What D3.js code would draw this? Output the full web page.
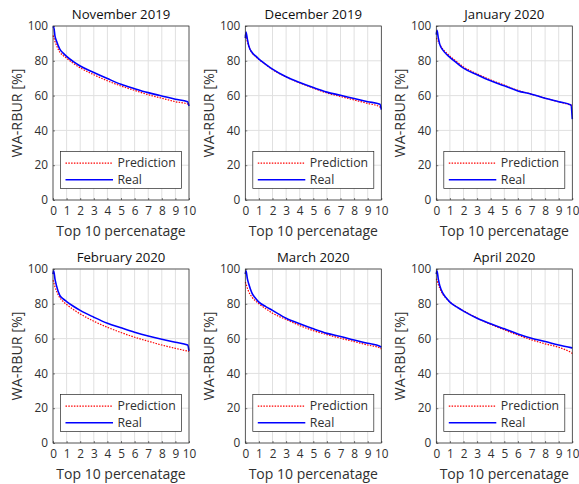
<!DOCTYPE html>
<html>
<head>
<meta charset="utf-8">
<script src="https://cdn.jsdelivr.net/npm/d3@7"></script>
<style>
  body { margin: 0; background: #fff; }
  svg text { font-family: "Open Sans", "Noto Sans", sans-serif; fill: #303030; }
  .grid line { stroke: #e0e0e0; stroke-width: 1; }
</style>
</head>
<body>
<div id="chart"></div>
<script>
// chart data
var titles = ["November 2019", "December 2019", "January 2020",
              "February 2020", "March 2020", "April 2020"];
var xs = [0, 0.05, 0.15, 0.25, 0.5, 0.75, 1, 1.5, 2, 3, 4, 5, 6, 7, 8, 9, 9.9, 10];

var realVals = [
  [99, 99.5, 94, 91.5, 86.7, 84.4, 82.5, 79.5, 77, 73.3, 69.8, 66.5, 64, 61.7, 59.8, 57.9, 56.5, 54],
  [93, 96.5, 92.5, 88.7, 84.8, 82.8, 81, 78, 75.2, 70.8, 67.5, 64.6, 62, 60.2, 58.3, 56.5, 55, 52],
  [95, 97.5, 93, 89.6, 86, 83.8, 82, 78.8, 75.8, 72, 68.5, 65.6, 62.7, 60.8, 58.5, 56.5, 54.6, 46.5],
  [97, 99, 94, 90.6, 84.8, 82.8, 81.3, 78.6, 76.2, 72.3, 68.8, 66.2, 63.7, 61.5, 59.6, 57.9, 56.3, 53],
  [97, 99, 94.5, 91.5, 86, 83.2, 81, 78.4, 76.2, 71.7, 68.5, 65.6, 63, 61.2, 59.2, 57.3, 55.6, 55],
  [97, 99, 94, 90.6, 85.8, 83.2, 81, 78.2, 75.8, 71.7, 68.5, 65.6, 62.7, 60.2, 58.3, 56.3, 54.8, 54.6]
];
var predVals = [
  [94.5, 93.5, 91, 89, 85, 83, 81.5, 78.5, 76, 72, 68.5, 65.5, 63, 60.5, 58.5, 56.5, 55.2, 54.8],
  [95, 94, 91, 88.5, 84.5, 82.5, 80.8, 77.8, 75, 70.7, 67.3, 64.3, 61.5, 59.5, 57.5, 55.5, 53.5, 53],
  [93, 92.5, 91, 89.5, 86.5, 84.5, 82.7, 79.5, 76.5, 72.5, 69, 66, 63, 60.8, 58.5, 56.4, 54.5, 54.2],
  [93.5, 92.5, 89.5, 87.5, 83.5, 81.3, 79.6, 76.7, 74.2, 70, 66.5, 63.5, 60.8, 58.5, 56.3, 54.4, 52.8, 52.6],
  [92.5, 91.5, 89, 87, 83.8, 81.7, 80, 77.2, 74.6, 71, 67.5, 64.6, 62.3, 60.2, 58.3, 56.3, 54.6, 54],
  [94.4, 93.5, 91, 89, 85.3, 83, 81, 78.2, 76, 71.8, 68.2, 65, 62, 59.3, 57, 55, 52, 51.5]
];
var xTicks = [0, 1, 2, 3, 4, 5, 6, 7, 8, 9, 10];
var yTicks = [0, 20, 40, 60, 80, 100];
var legendNames = ["Prediction", "Real"];

(function(){
  var width = 579, height = 484;
  var colLeft = [53, 245.3, 436.3], rowTop = [26, 269];
  var pw = 136, ph = 174;

  var svg = d3.select("#chart").append("svg")
      .attr("width", width)
      .attr("height", height);

  var x = d3.scaleLinear().domain([0, 10]).range([0, pw]);
  var y = d3.scaleLinear().domain([0, 100]).range([ph, 0]);

  var line = d3.line()
      .x(function(d){ return x(d[0]); })
      .y(function(d){ return y(d[1]); })
      .curve(d3.curveMonotoneX);

  titles.forEach(function(t, i){
    var g = svg.append("g")
        .attr("transform", "translate(" + colLeft[i % 3] + "," + rowTop[Math.floor(i / 3)] + ")");

    // grid
    var grid = g.append("g").attr("class", "grid");
    grid.selectAll(".gx").data(xTicks).enter().append("line")
        .attr("x1", function(d){ return x(d); }).attr("x2", function(d){ return x(d); })
        .attr("y1", 0).attr("y2", ph);
    grid.selectAll(".gy").data(yTicks).enter().append("line")
        .attr("y1", function(d){ return y(d); }).attr("y2", function(d){ return y(d); })
        .attr("x1", 0).attr("x2", pw);

    // axes
    var xAxis = g.append("g")
        .attr("transform", "translate(0," + ph + ")")
        .call(d3.axisBottom(x).tickValues(xTicks).tickSizeInner(-2).tickSizeOuter(0).tickPadding(7));
    var yAxis = g.append("g")
        .call(d3.axisLeft(y).tickValues(yTicks).tickSizeInner(-2).tickSizeOuter(0).tickPadding(5));
    [xAxis, yAxis].forEach(function(a){
      a.select(".domain").remove();
      a.selectAll(".tick line").attr("stroke", "#262626").attr("stroke-width", 0.6);
      a.selectAll(".tick text").attr("fill", "#383838").style("font-size", "11.8px");
    });

    // lines
    var pred = xs.map(function(v, k){ return [v, predVals[i][k]]; });
    var real = xs.map(function(v, k){ return [v, realVals[i][k]]; });
    g.append("path").datum(pred)
        .attr("d", line).attr("fill", "none")
        .attr("stroke", "#ff0000").attr("stroke-width", 1.2)
        .attr("stroke-dasharray", "1.5,1.3");
    g.append("path").datum(real)
        .attr("d", line).attr("fill", "none")
        .attr("stroke", "#0000ff").attr("stroke-width", 1.6);

    // box
    g.append("rect")
        .attr("width", pw).attr("height", ph)
        .attr("fill", "none").attr("stroke", "#262626").attr("stroke-width", 0.7);

    // title and labels
    g.append("text")
        .attr("x", pw / 2).attr("y", -7)
        .attr("text-anchor", "middle")
        .style("font-size", "13.2px")
        .style("fill", "#111")
        .text(t);
    g.append("text")
        .attr("x", pw / 2).attr("y", ph + 35.5)
        .attr("text-anchor", "middle")
        .style("font-size", "14px")
        .text("Top 10 percenatage");
    g.append("text")
        .attr("transform", "translate(-31," + (ph / 2) + ") rotate(-90)")
        .attr("text-anchor", "middle")
        .style("font-size", "14.3px")
        .text("WA-RBUR [%]");

    // legend
    var lg = g.append("g").attr("transform", "translate(7.5," + (ph - 48.5) + ")");
    lg.append("rect")
        .attr("width", 121).attr("height", 37)
        .attr("fill", "#fff").attr("stroke", "#262626").attr("stroke-width", 0.7);
    legendNames.forEach(function(n, k){
      var ly = 11.6 + k * 16.7;
      lg.append("line")
          .attr("x1", 5).attr("x2", 52.5).attr("y1", ly).attr("y2", ly)
          .attr("stroke", k == 0 ? "#ff0000" : "#0000ff")
          .attr("stroke-width", k == 0 ? 1.2 : 1.6)
          .attr("stroke-dasharray", k == 0 ? "1.5,1.3" : null);
      lg.append("text")
          .attr("x", 57).attr("y", ly + 4.3)
          .style("font-size", "12.3px")
          .text(n);
    });
  });
})();
</script>
</body>
</html>
